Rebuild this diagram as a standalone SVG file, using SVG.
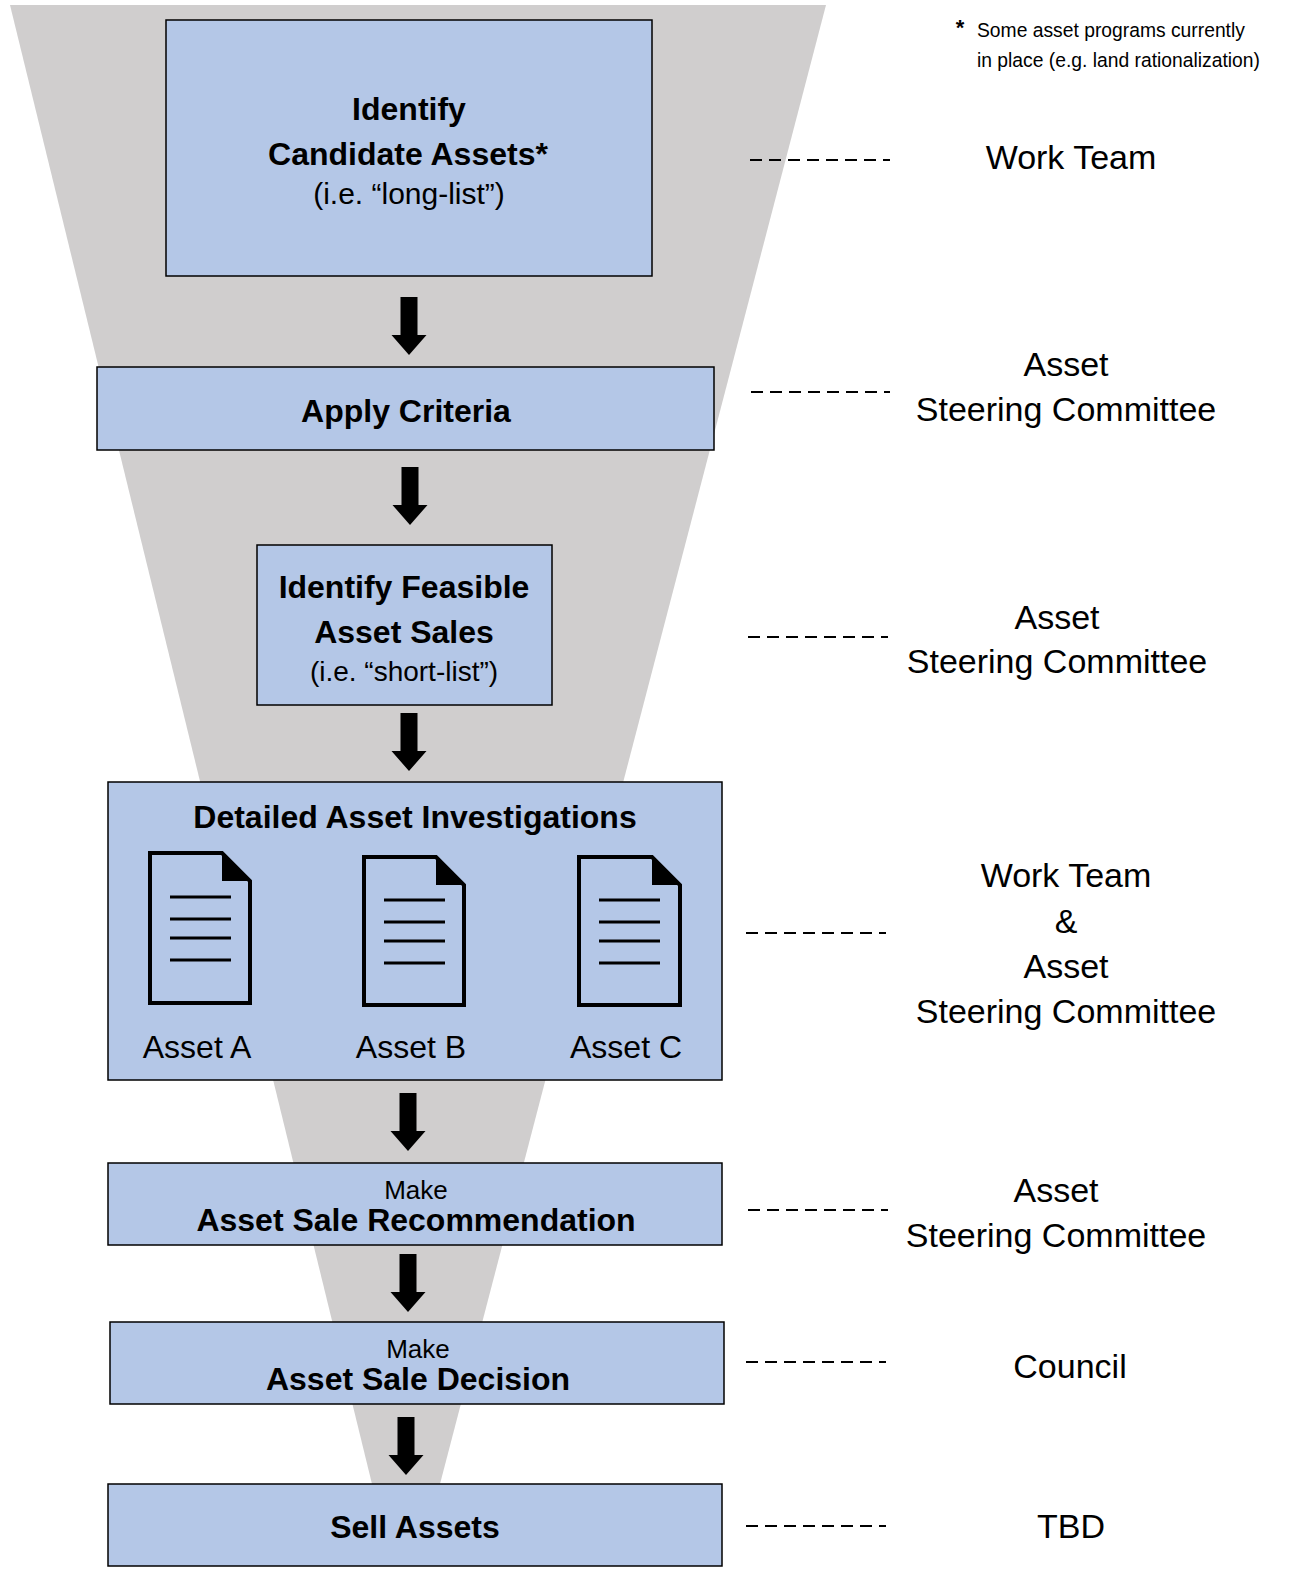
<svg xmlns="http://www.w3.org/2000/svg" width="1290" height="1581" viewBox="0 0 1290 1581">
<defs>
<style>
.box{fill:#b4c7e7;stroke:#000;stroke-width:1.5}
.b{font-family:"Liberation Sans",Arial,sans-serif;font-weight:bold;font-size:32px;fill:#000;text-anchor:middle}
.r{font-family:"Liberation Sans",Arial,sans-serif;font-size:32px;fill:#000;text-anchor:middle}
.lab{font-family:"Liberation Sans",Arial,sans-serif;font-size:34px;fill:#000;text-anchor:middle}
.dash{stroke:#000;stroke-width:2;stroke-dasharray:12 7;fill:none}
.doc{fill:none;stroke:#000;stroke-width:4;stroke-linejoin:miter}
.docl{stroke:#000;stroke-width:3}
.arr{fill:#000}
</style>
<symbol id="arrow" overflow="visible">
<path d="M-8.5,0 H8.5 V38 H17.5 L0,58 L-17.5,38 H-8.5 Z"/>
</symbol>
</defs>
<rect width="1290" height="1581" fill="#fff"/>
<polygon id="funnel" points="10,5 826,5 440,1484 372,1484" fill="#d0cece"/>

<g id="footnote">
<text x="960" y="35" font-family="Liberation Sans,Arial,sans-serif" font-weight="bold" font-size="22" text-anchor="middle">*</text>
<text x="977" y="37" font-family="Liberation Sans,Arial,sans-serif" font-size="19.3">Some asset programs currently</text>
<text x="977" y="67" font-family="Liberation Sans,Arial,sans-serif" font-size="19.3">in place (e.g. land rationalization)</text>
</g>

<g id="connectors">
<use href="#arrow" x="409" y="297" class="arr"/>
<use href="#arrow" x="410" y="467" class="arr"/>
<use href="#arrow" x="409" y="713" class="arr"/>
<use href="#arrow" x="408" y="1093" class="arr"/>
<use href="#arrow" x="408" y="1254" class="arr"/>
<use href="#arrow" x="406" y="1417" class="arr"/>
<line class="dash" x1="750" y1="160" x2="890" y2="160"/>
<line class="dash" x1="751" y1="392" x2="890" y2="392"/>
<line class="dash" x1="748" y1="637" x2="888" y2="637"/>
<line class="dash" x1="746" y1="933" x2="886" y2="933"/>
<line class="dash" x1="748" y1="1210" x2="888" y2="1210"/>
<line class="dash" x1="746" y1="1362" x2="886" y2="1362"/>
<line class="dash" x1="746" y1="1526" x2="886" y2="1526"/>
</g>

<g id="n1">
<rect class="box" x="166" y="20" width="486" height="256"/>
<text class="b" x="409" y="120">Identify</text>
<text class="b" x="408" y="165">Candidate Assets*</text>
<text class="r" x="409" y="204" style="font-size:30px">(i.e. “long-list”)</text>
</g>

<g id="n2">
<rect class="box" x="97" y="367" width="617" height="83"/>
<text class="b" x="406" y="422">Apply Criteria</text>
</g>

<g id="n3">
<rect class="box" x="257" y="545" width="295" height="160"/>
<text class="b" x="404" y="598">Identify Feasible</text>
<text class="b" x="404" y="643">Asset Sales</text>
<text class="r" x="404" y="681" style="font-size:28px">(i.e. “short-list”)</text>
</g>

<g id="n4">
<rect class="box" x="108" y="782" width="614" height="298"/>
<text class="b" x="415" y="828">Detailed Asset Investigations</text>
<g id="docA">
<path class="doc" d="M150,853 H222 L250,881 V1003 H150 Z"/>
<path d="M222,853 L250,881 H222 Z" fill="#000"/>
<line class="docl" x1="170" y1="897" x2="231" y2="897"/>
<line class="docl" x1="170" y1="919" x2="231" y2="919"/>
<line class="docl" x1="170" y1="938" x2="231" y2="938"/>
<line class="docl" x1="170" y1="960" x2="231" y2="960"/>
<text class="r" x="197" y="1058">Asset A</text>
</g>
<g id="docB">
<path class="doc" d="M364,857 H436 L464,885 V1005 H364 Z"/>
<path d="M436,857 L464,885 H436 Z" fill="#000"/>
<line class="docl" x1="384" y1="900" x2="445" y2="900"/>
<line class="docl" x1="384" y1="922" x2="445" y2="922"/>
<line class="docl" x1="384" y1="941" x2="445" y2="941"/>
<line class="docl" x1="384" y1="963" x2="445" y2="963"/>
<text class="r" x="411" y="1058">Asset B</text>
</g>
<g id="docC">
<path class="doc" d="M579,857 H652 L680,885 V1005 H579 Z"/>
<path d="M652,857 L680,885 H652 Z" fill="#000"/>
<line class="docl" x1="599" y1="900" x2="660" y2="900"/>
<line class="docl" x1="599" y1="922" x2="660" y2="922"/>
<line class="docl" x1="599" y1="941" x2="660" y2="941"/>
<line class="docl" x1="599" y1="963" x2="660" y2="963"/>
<text class="r" x="626" y="1058">Asset C</text>
</g>
</g>

<g id="n5">
<rect class="box" x="108" y="1163" width="614" height="82"/>
<text class="r" x="416" y="1199" style="font-size:26px">Make</text>
<text class="b" x="416" y="1231">Asset Sale Recommendation</text>
</g>

<g id="n6">
<rect class="box" x="110" y="1322" width="614" height="82"/>
<text class="r" x="418" y="1358" style="font-size:26px">Make</text>
<text class="b" x="418" y="1390">Asset Sale Decision</text>
</g>

<g id="n7">
<rect class="box" x="108" y="1484" width="614" height="82"/>
<text class="b" x="415" y="1538">Sell Assets</text>
</g>

<g id="roles">
<text class="lab" x="1071" y="169">Work Team</text>
<text class="lab" x="1066" y="376">Asset</text>
<text class="lab" x="1066" y="421">Steering Committee</text>
<text class="lab" x="1057" y="629">Asset</text>
<text class="lab" x="1057" y="673">Steering Committee</text>
<text class="lab" x="1066" y="887">Work Team</text>
<text class="lab" x="1066" y="933">&amp;</text>
<text class="lab" x="1066" y="978">Asset</text>
<text class="lab" x="1066" y="1023">Steering Committee</text>
<text class="lab" x="1056" y="1202">Asset</text>
<text class="lab" x="1056" y="1247">Steering Committee</text>
<text class="lab" x="1070" y="1378">Council</text>
<text class="lab" x="1071" y="1538">TBD</text>
</g>
</svg>
